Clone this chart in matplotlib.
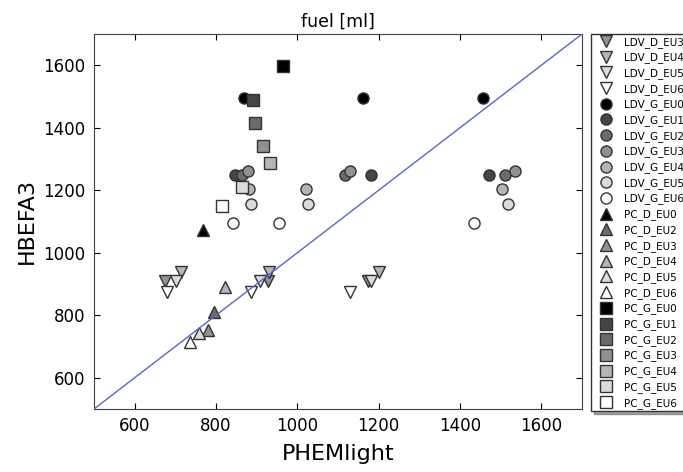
import numpy as np
import matplotlib
matplotlib.use('Agg')
import matplotlib.pyplot as plt

# HBEFA3 vs PHEMlight fuel consumption
ldv_d_eu = [3, 3, 3, 4, 4, 4, 5, 5, 5, 6, 6, 6]
ldv_d_x = [674, 928, 1174, 713, 930, 1200, 701, 907, 1182, 680, 886, 1130]
ldv_d_y = [909, 909, 909, 940, 940, 940, 909, 909, 909, 874, 874, 874]

ldv_g_eu = [0, 0, 0, 1, 1, 1, 2, 2, 2, 3, 3, 3, 4, 4, 4, 5, 5, 5, 6, 6, 6]
ldv_g_x = [869, 1162, 1457, 847, 1180, 1472, 863, 1117, 1510,
           879, 1129, 1535, 882, 1021, 1503, 885, 1027, 1517, 841, 954, 1434]
ldv_g_y = [1494, 1494, 1494, 1250, 1250, 1250, 1249, 1250, 1250,
           1263, 1263, 1263, 1205, 1205, 1205, 1156, 1156, 1156, 1096, 1096, 1096]

pc_d_eu = [0, 2, 3, 4, 5, 6]
pc_d_x = [767, 796, 781, 822, 758, 736]
pc_d_y = [1073, 811, 753, 891, 742, 715]

pc_g_eu = [0, 1, 2, 3, 4, 5, 6]
pc_g_x = [965, 890, 896, 915, 933, 863, 814]
pc_g_y = [1597, 1489, 1414, 1342, 1288, 1211, 1150]

# grey level per EU class
eu_grey = ['0.0', '0.27', '0.42', '0.57', '0.71', '0.86', '1.0']

groups = [('LDV_D', 'v', ldv_d_eu, ldv_d_x, ldv_d_y),
          ('LDV_G', 'o', ldv_g_eu, ldv_g_x, ldv_g_y),
          ('PC_D', '^', pc_d_eu, pc_d_x, pc_d_y),
          ('PC_G', 's', pc_g_eu, pc_g_x, pc_g_y)]

fig = plt.figure(figsize=(6.83, 4.72), dpi=100)
ax = fig.add_axes([94 / 683, 1 - 409 / 472, 488 / 683, 375 / 472])

for name, marker, eu, xs, ys in groups:
    eu = np.array(eu)
    xs = np.array(xs)
    ys = np.array(ys)
    for e in sorted(set(eu)):
        sel = eu == e
        ax.plot(xs[sel], ys[sel], ls='none', marker=marker, ms=8,
                mfc=eu_grey[e], mec='0.2', mew=1.0,
                label='%s_EU%d' % (name, e))

ax.plot([500, 1700], [500, 1700], color='#5566cc', lw=1.0, zorder=5)

ax.set_xlim(500, 1700)
ax.set_ylim(500, 1700)
ax.set_xticks([600, 800, 1000, 1200, 1400, 1600])
ax.set_yticks([600, 800, 1000, 1200, 1400, 1600])
ax.tick_params(direction='in', top=True, right=True, length=4,
               labelsize=12, pad=6)
for sp in ax.spines.values():
    sp.set_color('0.25')

ax.set_title('fuel [ml]', fontsize=12.5, pad=5)
ax.set_xlabel('PHEMlight', fontsize=16, labelpad=6)
ax.set_ylabel('HBEFA3', fontsize=16, labelpad=5)

# legend sits outside the axes and runs past the figure edge, as in the original
ax.legend(loc='upper left', bbox_to_anchor=(1.018, 1.0), borderaxespad=0,
          fontsize=7.5, numpoints=1, labelspacing=0.46, borderpad=0.25,
          handlelength=2.5, handletextpad=0.45, fancybox=False,
          edgecolor='0.2', framealpha=1, shadow=True)

fig.savefig('out.png', dpi=100)
plt.close(fig)
